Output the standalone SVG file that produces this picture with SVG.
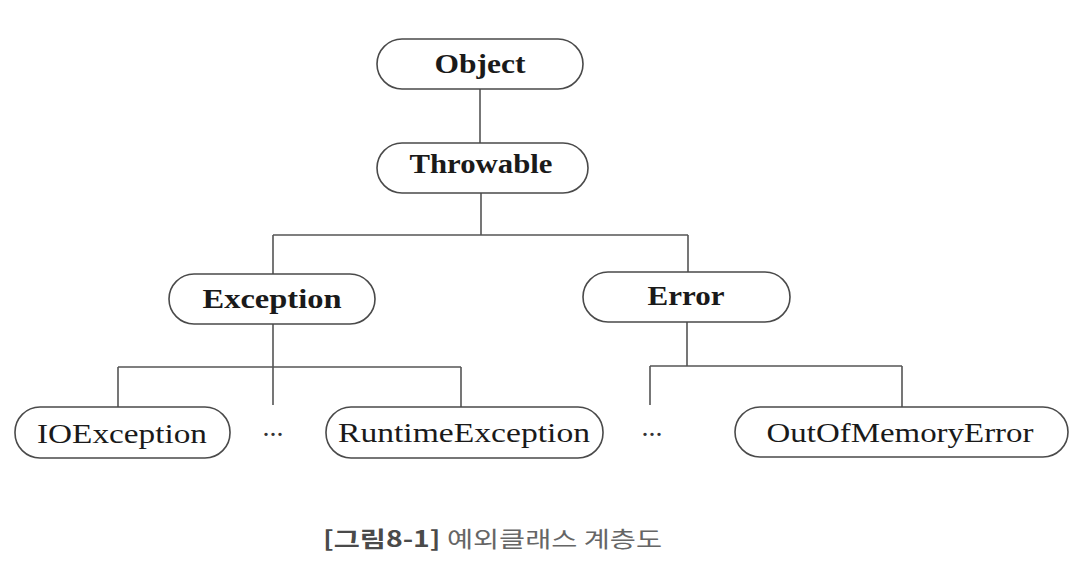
<svg xmlns="http://www.w3.org/2000/svg" width="1078" height="568" viewBox="0 0 1078 568">
<style>
.box{fill:#fff;stroke:#4a4a4a;stroke-width:1.6}
.lbl{font-family:"Liberation Serif","Times New Roman",serif;font-size:28px;fill:#1a1a1a;text-anchor:middle}
.b{font-weight:bold}
.conn{fill:none;stroke:#555;stroke-width:1.6}
.dots{font-family:"Liberation Serif",serif;font-size:28px;fill:#333;text-anchor:middle}
.cap{font-family:"Noto Sans CJK KR","Noto Sans",sans-serif;font-size:22px;fill:#666}
.capb{font-weight:bold;fill:#4a4a4a}
</style>
<rect width="1078" height="568" fill="#fff"/>
<g id="connectors">
<path class="conn" d="M480 89V143"/>
<path class="conn" d="M481 193V235M273 235H688M273 235V274M688 235V272"/>
<path class="conn" d="M273 324V405M118 367H461M118 367V407M461 367V407"/>
<path class="conn" d="M687 322V366M650 366H902M650 366V405M902 366V407"/>
</g>
<g id="object"><rect class="box" x="377" y="39" width="206" height="50" rx="25"/><text class="lbl b" x="480" y="73" textLength="91" lengthAdjust="spacingAndGlyphs">Object</text></g>
<g id="throwable"><rect class="box" x="377" y="143" width="211" height="50" rx="25"/><text class="lbl b" x="481" y="173" textLength="143" lengthAdjust="spacingAndGlyphs">Throwable</text></g>
<g id="exception"><rect class="box" x="169" y="274" width="206" height="50" rx="25"/><text class="lbl b" x="272" y="308" textLength="139" lengthAdjust="spacingAndGlyphs">Exception</text></g>
<g id="error"><rect class="box" x="583" y="272" width="207" height="50" rx="25"/><text class="lbl b" x="686" y="305" textLength="77" lengthAdjust="spacingAndGlyphs">Error</text></g>
<g id="ioexception"><rect class="box" x="15" y="407" width="215" height="51" rx="25"/><text class="lbl" x="122" y="443" textLength="170" lengthAdjust="spacingAndGlyphs">IOException</text></g>
<g id="dots1"><text class="dots" x="273" y="436">...</text></g>
<g id="runtimeexception"><rect class="box" x="326" y="407" width="277" height="51" rx="25"/><text class="lbl" x="464" y="442" textLength="252" lengthAdjust="spacingAndGlyphs">RuntimeException</text></g>
<g id="dots2"><text class="dots" x="652" y="436">...</text></g>
<g id="outofmemoryerror"><rect class="box" x="735" y="407" width="333" height="50" rx="25"/><text class="lbl" x="900" y="442" textLength="267" lengthAdjust="spacingAndGlyphs">OutOfMemoryError</text></g>
<text class="cap" x="323" y="547" textLength="339" lengthAdjust="spacingAndGlyphs"><tspan class="capb">[그림8-1]</tspan> 예외클래스 계층도</text>
</svg>
